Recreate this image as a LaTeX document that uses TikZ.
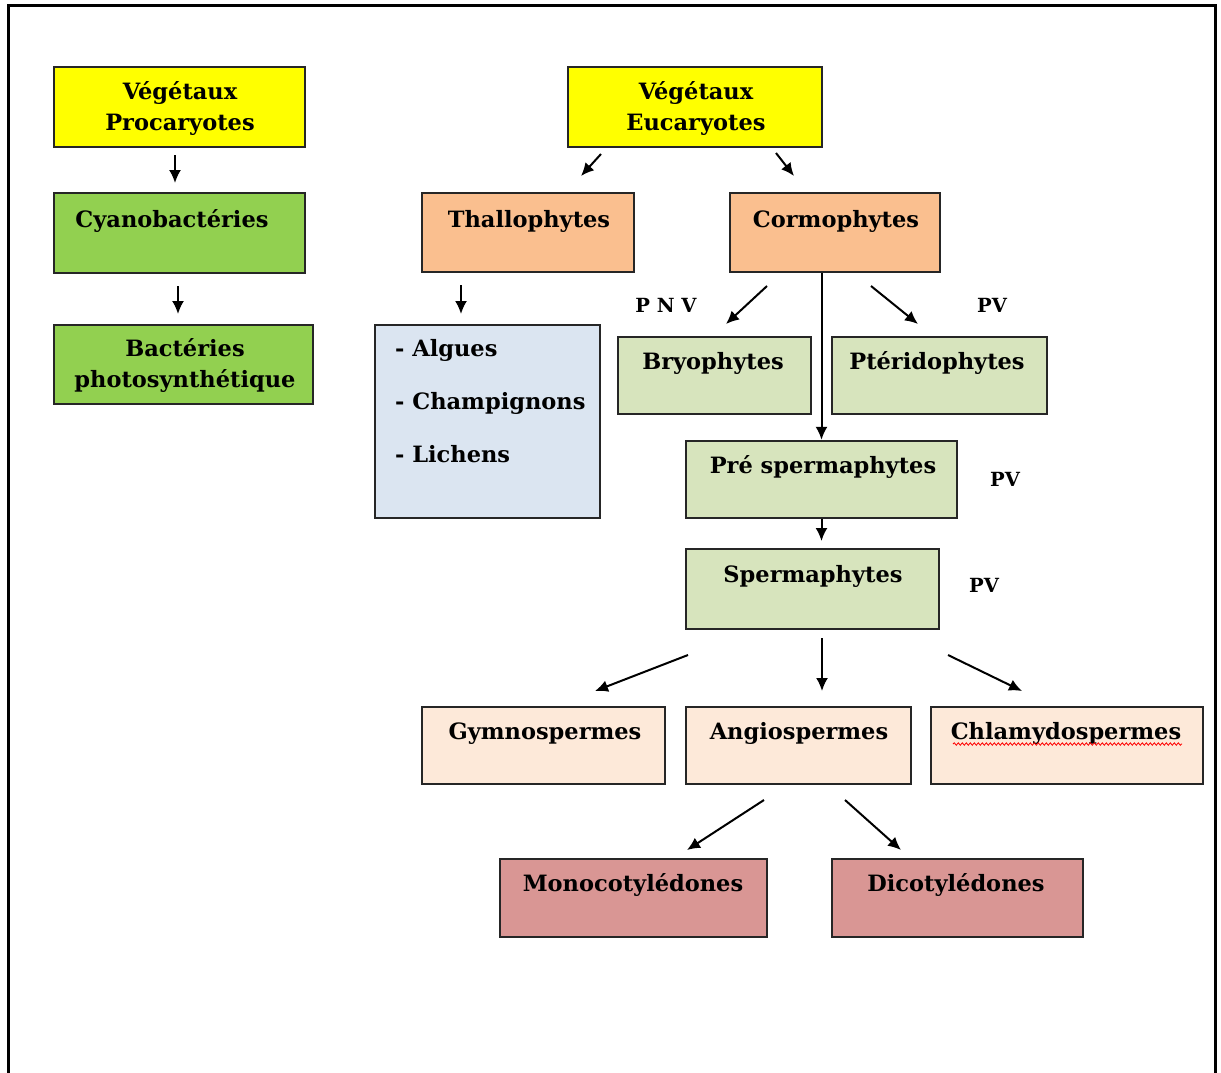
\documentclass[tikz,border=0pt]{standalone}
\usepackage{fontspec}
\setmainfont{DejaVu Serif}
\usetikzlibrary{arrows.meta,decorations.pathmorphing}
\definecolor{cyel}{HTML}{FFFF00}
\definecolor{cgrn}{HTML}{92D050}
\definecolor{corg}{HTML}{FABF8F}
\definecolor{cblu}{HTML}{DBE5F1}
\definecolor{clgr}{HTML}{D7E4BD}
\definecolor{cpch}{HTML}{FDE9D9}
\definecolor{cros}{HTML}{D99694}
\tikzset{
  box/.style={draw=black!85,line width=2.4,rectangle,inner sep=0},
  txt/.style={anchor=base,inner sep=0,font=\bfseries\fontsize{22.5}{26}\selectfont},
  ltxt/.style={anchor=base west,inner sep=0,font=\bfseries\fontsize{22.5}{26}\selectfont},
  lab/.style={anchor=base,inner sep=0,font=\bfseries\fontsize{19.5}{22}\selectfont},
  arr/.style={line width=2,-{Latex[length=13,width=12]}}
}
\begin{document}
\begin{tikzpicture}[x=1pt,y=-1pt]
\useasboundingbox (0,0) rectangle (1221,1072);
\draw[line width=3] (8,1090) -- (8,5) -- (1215,5) -- (1215,1090);
% boxes
\node[box,fill=cyel,minimum width=251,minimum height=80] (proc) at (179.5,107) {};
\node[box,fill=cgrn,minimum width=251,minimum height=80] (cyano) at (179.5,233) {};
\node[box,fill=cgrn,minimum width=259,minimum height=79] (bact) at (183.5,364.5) {};
\node[box,fill=cyel,minimum width=254,minimum height=80] (euc) at (695,107) {};
\node[box,fill=corg,minimum width=212,minimum height=79] (thal) at (528,232.5) {};
\node[box,fill=corg,minimum width=210,minimum height=79] (corm) at (835,232.5) {};
\node[box,fill=cblu,minimum width=225,minimum height=193] (list) at (487.5,421.5) {};
\node[box,fill=clgr,minimum width=193,minimum height=77] (bryo) at (714.5,375.5) {};
\node[box,fill=clgr,minimum width=215,minimum height=77] (pter) at (939.5,375.5) {};
\node[box,fill=clgr,minimum width=271,minimum height=77] (pre) at (821.5,479.5) {};
\node[box,fill=clgr,minimum width=253,minimum height=80] (sperm) at (812.5,589) {};
\node[box,fill=cpch,minimum width=243,minimum height=77] (gymno) at (543.5,745.5) {};
\node[box,fill=cpch,minimum width=225,minimum height=77] (angio) at (798.5,745.5) {};
\node[box,fill=cpch,minimum width=272,minimum height=77] (chlam) at (1067,745.5) {};
\node[box,fill=cros,minimum width=267,minimum height=78] (mono) at (633.5,898) {};
\node[box,fill=cros,minimum width=251,minimum height=78] (dico) at (957.5,898) {};
% texts
\node[txt] (tproc1) at (180,99) {Végétaux};
\node[txt] (tproc2) at (180,130) {Procaryotes};
\node[txt] (tcyano) at (172,227) {Cyanobactéries};
\node[txt] (tbact1) at (185,356) {Bactéries};
\node[txt] (tbact2) at (185,387) {photosynthétique};
\node[txt] (teuc1) at (696,99) {Végétaux};
\node[txt] (teuc2) at (696,130) {Eucaryotes};
\node[txt] (tthal) at (529,227) {Thallophytes};
\node[txt] (tcorm) at (836,227) {Cormophytes};
\node[ltxt] (tl1) at (395,356) {- Algues};
\node[ltxt] (tl2) at (395,409) {- Champignons};
\node[ltxt] (tl3) at (395,462) {- Lichens};
\node[txt] (tbryo) at (713,369) {Bryophytes};
\node[txt] (tpter) at (937,369) {Ptéridophytes};
\node[txt] (tpre) at (823,473) {Pré spermaphytes};
\node[txt] (tsperm) at (813,582) {Spermaphytes};
\node[txt] (tgymno) at (545,739) {Gymnospermes};
\node[txt] (tangio) at (799,739) {Angiospermes};
\node[txt] (tchlam) at (1066,739) {Chlamydospermes};
\node[txt] (tmono) at (633,891) {Monocotylédones};
\node[txt] (tdico) at (956,891) {Dicotylédones};
\draw[red,line width=0.8,decorate,decoration={snake,amplitude=1.2,segment length=4}] (953,744) -- (1182,744);
% labels
\node[lab] (lpnv) at (666,312) {P N V};
\node[lab] (lpv1) at (992,312) {PV};
\node[lab] (lpv2) at (1005,486) {PV};
\node[lab] (lpv3) at (984,592) {PV};
% arrow end points
\coordinate (a1s) at (175,155); \coordinate (a1e) at (175,183);
\coordinate (a2s) at (178,286); \coordinate (a2e) at (178,314);
\coordinate (a3s) at (601,154); \coordinate (a3e) at (581,176);
\coordinate (a4s) at (776,153); \coordinate (a4e) at (794,176);
\coordinate (a5s) at (461,285); \coordinate (a5e) at (461,314);
\coordinate (a6s) at (767,286); \coordinate (a6e) at (726,324);
\coordinate (a7s) at (871,286); \coordinate (a7e) at (918,324);
\coordinate (a8e) at (821.5,541);
\coordinate (a9s) at (688,655); \coordinate (a9e) at (595,691);
\coordinate (a10s) at (822,638); \coordinate (a10e) at (822,691);
\coordinate (a11s) at (948,655); \coordinate (a11e) at (1022,691);
\coordinate (a12s) at (764,800); \coordinate (a12e) at (687,850);
\coordinate (a13s) at (845,800); \coordinate (a13e) at (901,850);
% arrows
\draw[arr] (a1s) -- (a1e);
\draw[arr] (a2s) -- (a2e);
\draw[arr] (a3s) -- (a3e);
\draw[arr] (a4s) -- (a4e);
\draw[arr] (a5s) -- (a5e);
\draw[arr] (a6s) -- (a6e);
\draw[arr] (a7s) -- (a7e);
\draw[arr] (pre.north |- corm.south) -- (pre.north);
\draw[arr] (pre.south) -- (a8e);
\draw[arr] (a9s) -- (a9e);
\draw[arr] (a10s) -- (a10e);
\draw[arr] (a11s) -- (a11e);
\draw[arr] (a12s) -- (a12e);
\draw[arr] (a13s) -- (a13e);
\end{tikzpicture}
\end{document}
